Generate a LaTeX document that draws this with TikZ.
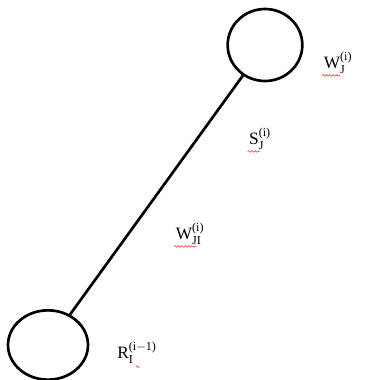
\documentclass[tikz,border=0pt]{standalone}
\usepackage{amsmath}
\usepackage{fontspec}
\setmainfont{Liberation Serif}
\usetikzlibrary{shapes.geometric, decorations.pathmorphing}

\begin{document}
\begin{tikzpicture}[x=0.75pt, y=-0.75pt,
    unit/.style={ellipse, draw, line width=2pt, inner sep=0pt},
    lbl/.style={font=\fontsize{13}{15}\selectfont, inner sep=0pt},
    squiggle/.style={red!70, line width=0.5pt, decorate,
      decoration={snake, amplitude=0.6pt, segment length=2.5pt}}]
        \useasboundingbox (0,0) rectangle (373,380);
        \node[unit, minimum width=56pt, minimum height=54pt] (topunit) at (265,45) {};
        \node[unit, minimum width=60pt, minimum height=52pt] (botunit) at (48,345) {};
        \draw[line width=2pt] (topunit) -- (botunit);
        \node[lbl] (wj) at (338,63) {$\text{W}_{\text{J}}^{\text{(i)}}$};
        \node[lbl] (sj) at (260,139) {$\text{S}_{\text{J}}^{\text{(i)}}$};
        \node[lbl] (wji) at (190,234) {$\text{W}_{\text{JI}}^{\text{(i)}}$};
        \node[lbl] (ri) at (137,353) {$\text{R}_{\text{I}}^{\text{(i$-$1)}}$};
        % spell-check marks
        \draw[squiggle] ([xshift=-1pt, yshift=-1pt]wj.south west) -- ++(18,0);
        \draw[squiggle] ([xshift=-1pt, yshift=-1pt]sj.south west) -- ++(12,0);
        \draw[squiggle] ([xshift=-1pt, yshift=-1pt]wji.south west) -- ++(22,0);
        \draw[squiggle] ([xshift=14pt, yshift=-2pt]ri.south west) -- ++(4,0);
      \end{tikzpicture}
\end{document}
